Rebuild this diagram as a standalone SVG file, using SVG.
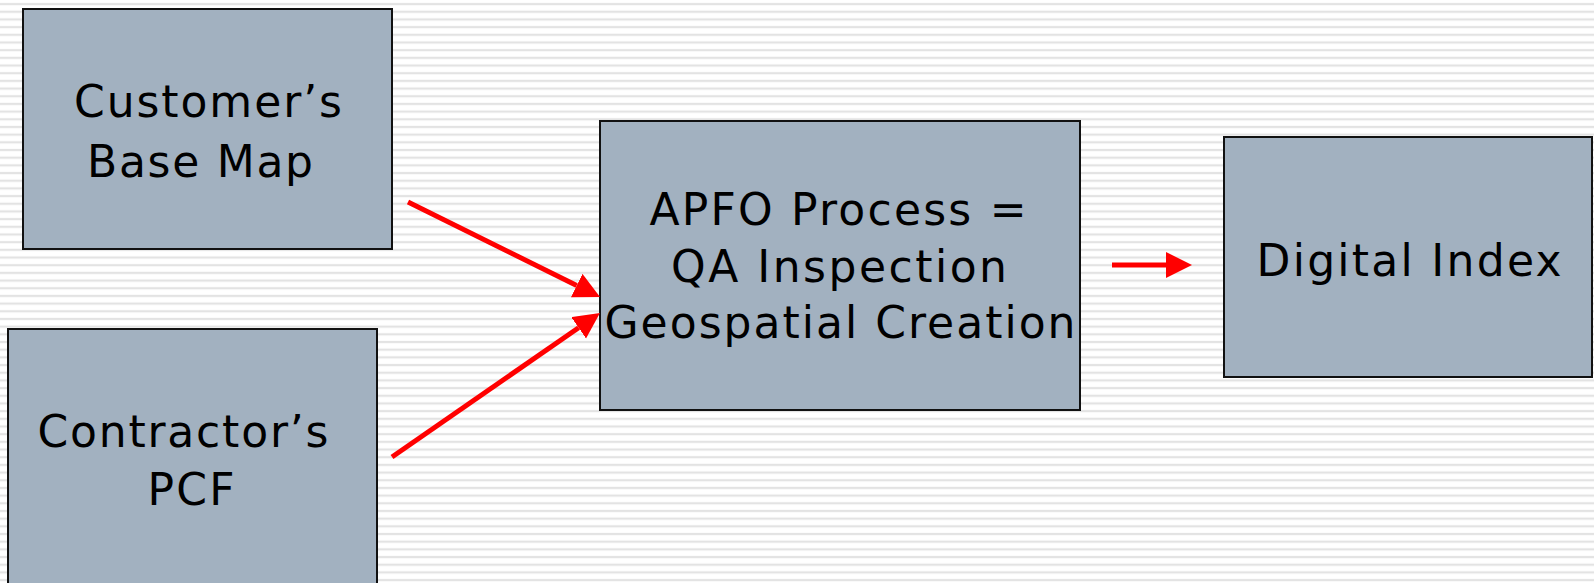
<svg xmlns="http://www.w3.org/2000/svg" width="1594" height="583" viewBox="0 0 1594 583">
  <defs>
    <pattern id="stripes" x="0" y="0.2" width="1594" height="7.68" patternUnits="userSpaceOnUse">
      <rect x="0" y="0" width="1594" height="7.68" fill="#ffffff"/>
      <rect x="0" y="2.8" width="1594" height="2.2" fill="#e3e3e3"/>
    </pattern>
    <marker id="head" markerUnits="userSpaceOnUse" markerWidth="30" markerHeight="30" refX="0" refY="13" orient="auto" viewBox="0 0 30 30">
      <path d="M0,0 L26,13 L0,26 z" fill="#ff0000"/>
    </marker>
  </defs>
  <style>
    .box { fill: #a2b1c0; stroke: #111111; stroke-width: 2; }
    .lbl { font-family: "DejaVu Sans", Verdana, sans-serif; font-size: 44px; fill: #000000; text-anchor: middle; }
    .conn { stroke: #ff0000; stroke-width: 5; fill: none; marker-end: url(#head); }
  </style>
  <rect x="0" y="0" width="1594" height="583" fill="url(#stripes)"/>

  <g id="customer-base-map">
    <rect class="box" x="23" y="9" width="369" height="240"/>
    <text class="lbl" x="208" y="117" textLength="268" lengthAdjust="spacing">Customer’s</text>
    <text class="lbl" x="200" y="177" textLength="226" lengthAdjust="spacing">Base Map</text>
  </g>

  <g id="contractor-pcf">
    <rect class="box" x="8" y="329" width="369" height="270"/>
    <text class="lbl" x="183" y="447" textLength="291" lengthAdjust="spacing">Contractor’s</text>
    <text class="lbl" x="191" y="505" textLength="87" lengthAdjust="spacing">PCF</text>
  </g>

  <g id="apfo-process">
    <rect class="box" x="600" y="121" width="480" height="289"/>
    <text class="lbl" x="838" y="225" textLength="377" lengthAdjust="spacing">APFO Process =</text>
    <text class="lbl" x="839" y="282" textLength="336" lengthAdjust="spacing">QA Inspection</text>
    <text class="lbl" x="840" y="338" textLength="471" lengthAdjust="spacing">Geospatial Creation</text>
  </g>

  <g id="digital-index">
    <rect class="box" x="1224" y="137" width="368" height="240"/>
    <text class="lbl" x="1409" y="276" textLength="305" lengthAdjust="spacing">Digital Index</text>
  </g>

  <g id="connectors">
    <line class="conn" x1="408" y1="202" x2="576.7" y2="285.5"/>
    <line class="conn" x1="392" y1="457" x2="578.6" y2="327.7"/>
    <line class="conn" x1="1112" y1="265" x2="1166" y2="265"/>
  </g>
</svg>
